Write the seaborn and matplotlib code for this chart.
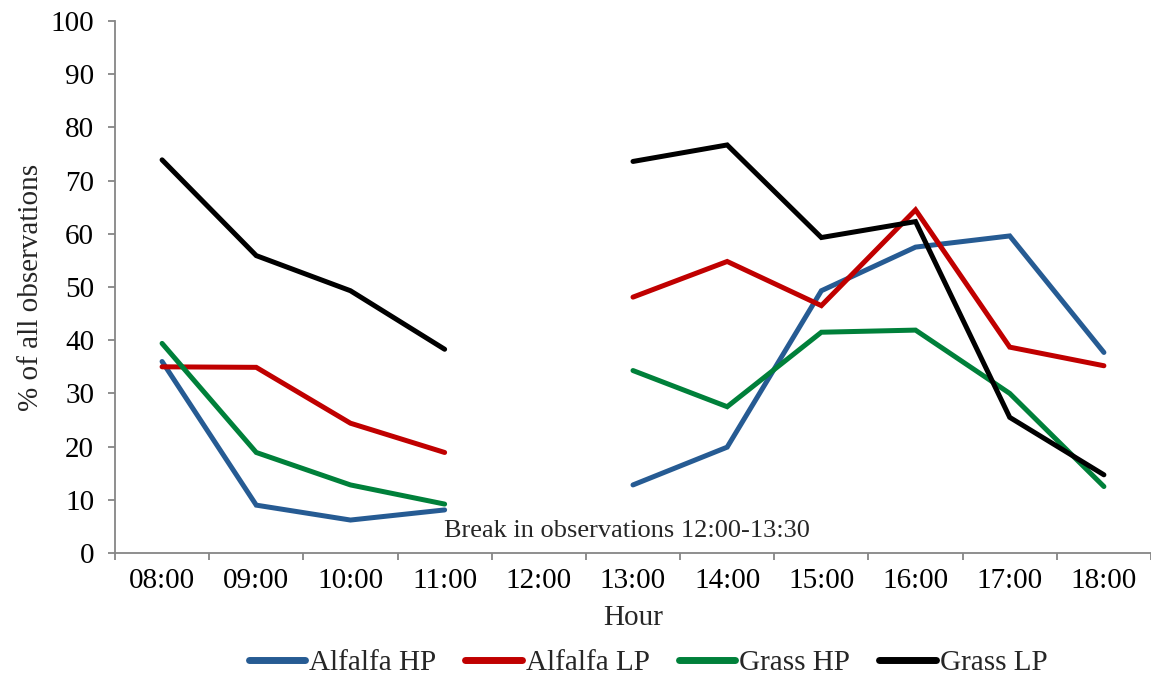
import numpy as np
import pandas as pd
import matplotlib
matplotlib.use("Agg")
import matplotlib.pyplot as plt
from matplotlib.ticker import MultipleLocator, FixedLocator
import seaborn as sns

hours = ["08:00", "09:00", "10:00", "11:00", "12:00", "13:00",
         "14:00", "15:00", "16:00", "17:00", "18:00"]
alfalfa_hp = [36.0, 9.0, 6.2, 8.1, np.nan, 12.8, 19.9, 49.3, 57.5, 59.6, 37.7]
alfalfa_lp = [35.0, 34.9, 24.4, 18.9, np.nan, 48.1, 54.8, 46.5, 64.5, 38.7, 35.2]
grass_hp = [39.4, 18.9, 12.8, 9.2, np.nan, 34.3, 27.5, 41.5, 41.9, 30.0, 12.5]
grass_lp = [73.9, 55.9, 49.3, 38.3, np.nan, 73.6, 76.7, 59.3, 62.3, 25.5, 14.7]
series_names = ["Alfalfa HP", "Alfalfa LP", "Grass HP", "Grass LP"]
colors = ["#265B93", "#C00000", "#00803A", "#000000"]
note = "Break in observations 12:00-13:30"

rows = []
for name, vals in zip(series_names, [alfalfa_hp, alfalfa_lp, grass_hp, grass_lp]):
    seg = 0
    for i, v in enumerate(vals):
        if np.isnan(v):
            seg += 1
            continue
        rows.append({"idx": i, "value": v, "series": name, "segment": seg})
df = pd.DataFrame(rows)

sns.set_theme(style="white")
plt.rcParams["font.family"] = ["Liberation Serif", "DejaVu Serif"]

fig = plt.figure(figsize=(11.51, 6.75), dpi=100)
ax = fig.add_axes([0.0999, 0.1807, 0.9001, 0.7882])

sns.lineplot(data=df, x="idx", y="value", hue="series", units="segment",
             estimator=None, palette=dict(zip(series_names, colors)),
             hue_order=series_names, linewidth=3.6, ax=ax, legend=True,
             solid_capstyle="round", solid_joinstyle="miter")

ax.set_xlim(-0.5, len(hours) - 0.5)
ax.set_ylim(0, 100)
ax.yaxis.set_major_locator(MultipleLocator(10))
ax.set_xticks(range(len(hours)))
ax.set_xticklabels(hours)
ax.xaxis.set_minor_locator(FixedLocator(np.arange(-0.5, len(hours), 1.0)))

grey = "#868686"
for s in ["top", "right"]:
    ax.spines[s].set_visible(False)
for s in ["left", "bottom"]:
    ax.spines[s].set_color(grey)
    ax.spines[s].set_linewidth(1.3)

ax.tick_params(axis="x", which="major", length=0, pad=11, labelsize=21, colors="black")
ax.tick_params(axis="x", which="minor", length=5, width=1.3, color=grey, direction="out", bottom=True)
ax.tick_params(axis="y", which="major", length=5, width=1.3, color=grey, direction="out",
               left=True, pad=10, labelsize=21, labelcolor="black")

ax.set_xlabel("Hour", fontsize=21, labelpad=8)
ax.set_ylabel("% of all observations", fontsize=21, labelpad=5)

ax.text(4.94, 4.2, note, ha="center", va="center", fontsize=19)

handles, labels = ax.get_legend_handles_labels()
ax.legend_.remove()
for h in handles:
    h.set_linewidth(5)
fig.legend(handles, labels, loc="center", bbox_to_anchor=(0.563, 0.018), ncol=4,
           frameon=False, fontsize=21, handlelength=1.93, handletextpad=0.14,
           columnspacing=1.0, borderaxespad=0)

fig.savefig("out.png", dpi=100)
